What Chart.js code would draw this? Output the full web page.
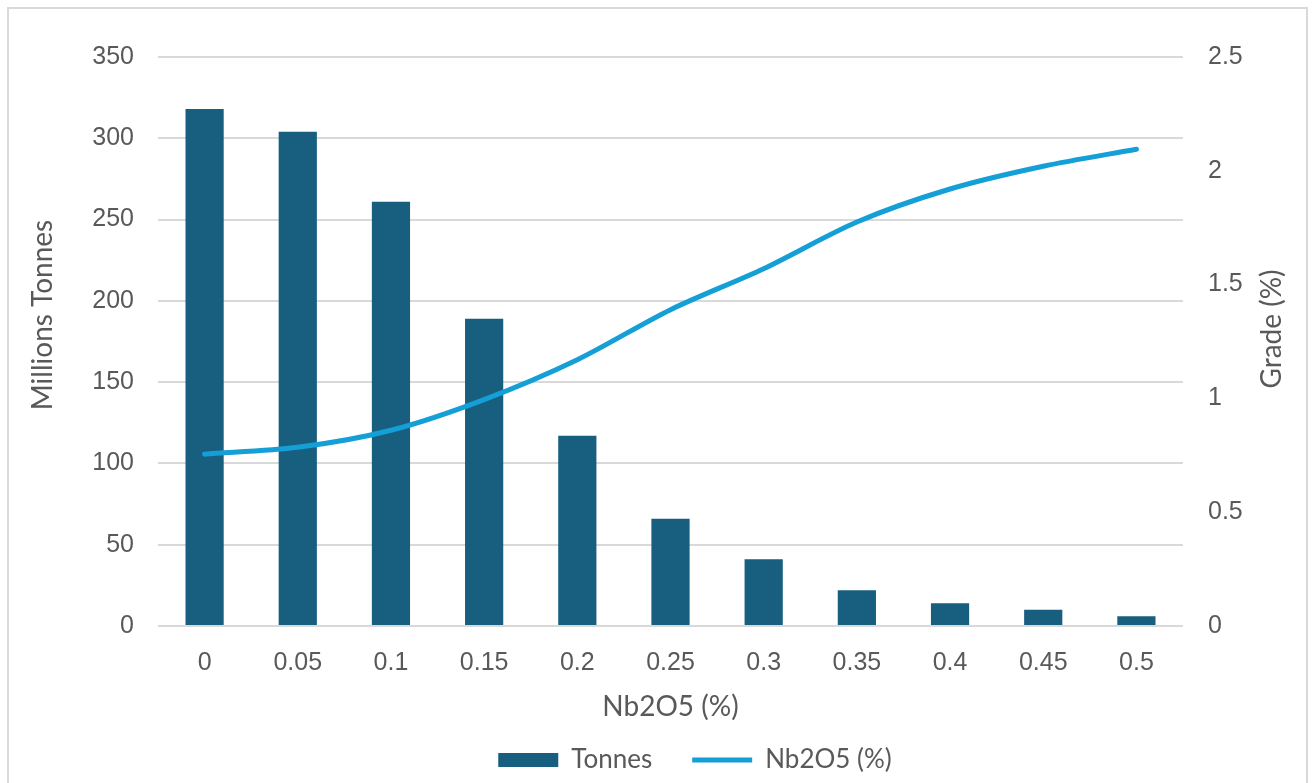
<!DOCTYPE html>
<html>
<head>
<meta charset="utf-8">
<script src="https://cdn.jsdelivr.net/npm/chart.js@4"></script>
<style>
  html, body { margin: 0; padding: 0; background: #fff; }
  #frame { position: absolute; left: 7px; top: 7px; width: 1301px; height: 790px;
           border: 2px solid #d9d9d9; box-sizing: border-box; }
  #wrap { position: absolute; left: 0; top: 0; width: 1314px; height: 783px; }
</style>
</head>
<body>
<div id="frame"></div>
<div id="wrap"><canvas id="GradeTonnageChart" width="1314" height="783"></canvas></div>
<script>
// cut-off grades and values
var cutoffs = ["0", "0.05", "0.1", "0.15", "0.2", "0.25", "0.3", "0.35", "0.4", "0.45", "0.5"];
var tonnes = [318, 304, 261, 189, 117, 66, 41, 22, 14, 10, 6];
var grade = [0.755, 0.785, 0.86, 0.995, 1.17, 1.39, 1.57, 1.775, 1.92, 2.02, 2.095];

var tickColor = "#595959";
var gridColor = "#d9d9d9";

// both y titles read bottom-to-top and sit a bit above the middle, so draw them by hand
function drawSideTitle(ctx, text, x, y) {
  ctx.save();
  ctx.translate(x, y);
  ctx.rotate(-Math.PI / 2);
  ctx.font = "28px Lato";
  ctx.fillStyle = tickColor;
  ctx.textAlign = "center";
  ctx.textBaseline = "middle";
  ctx.fillText(text, 0, 0);
  ctx.restore();
}

var sideTitles = {
  id: "sideTitles",
  afterDraw: function(chart) {
    var ctx = chart.ctx;
    drawSideTitle(ctx, "Millions Tonnes", 43, 315);
    drawSideTitle(ctx, "Grade (%)", 1272, 329);
  }
};

var ctx = document.getElementById("GradeTonnageChart").getContext("2d");
var grade_chart = new Chart(ctx, {
  data: {
    labels: cutoffs,
    datasets: [
      {
        type: "line",
        label: "Nb2O5 (%)",
        data: grade,
        yAxisID: "yGrade",
        borderColor: "#159fd7",
        backgroundColor: "#159fd7",
        borderWidth: 5,
        borderCapStyle: "round",
        borderJoinStyle: "round",
        pointRadius: 0,
        pointStyle: "line",
        tension: 0.3,
        fill: false,
        order: 0
      },
      {
        type: "bar",
        label: "Tonnes",
        data: tonnes,
        yAxisID: "yTonnes",
        backgroundColor: "#175e7f",
        pointStyle: "rect",
        barPercentage: 0.41,
        categoryPercentage: 1,
        order: 1
      }
    ]
  },
  options: {
    responsive: false,
    animation: false,
    // wide left padding pushes the legend centre to the right like in the picture
    layout: { padding: { left: 86, right: 10, top: 57, bottom: 0 } },
    scales: {
      x: {
        grid: { display: false, drawTicks: false },
        border: { display: false },
        ticks: { color: tickColor, font: { family: "Liberation Sans", size: 25 }, padding: 22 },
        title: { display: true, text: "Nb2O5 (%)", color: tickColor,
                 font: { family: "Lato", size: 28, lineHeight: 1.2 }, padding: { top: 0, bottom: -17 } },
        afterFit: function(scale) { scale.height = 81; }
      },
      yTonnes: {
        position: "left",
        min: 0, max: 350,
        ticks: { stepSize: 50, color: tickColor, font: { family: "Liberation Sans", size: 25 }, padding: 24 },
        grid: { color: gridColor, lineWidth: 2, drawTicks: false },
        border: { display: false },
        afterFit: function(scale) { scale.width = 72; }
      },
      yGrade: {
        position: "right",
        min: 0, max: 2.5,
        ticks: {
          stepSize: 0.5, color: tickColor, font: { family: "Liberation Sans", size: 25 }, padding: 25,
          callback: function(value) { return String(Math.round(value * 10) / 10); }
        },
        grid: { display: false, drawTicks: false },
        border: { display: false },
        afterFit: function(scale) { scale.width = 121; }
      }
    },
    plugins: {
      legend: {
        position: "bottom",
        reverse: true,
        maxHeight: 77,
        labels: {
          usePointStyle: true,
          pointStyleWidth: 60,
          boxHeight: 14,
          padding: 40,
          color: tickColor,
          font: { family: "Lato", size: 26 }
        }
      },
      tooltip: { enabled: false }
    }
  },
  plugins: [sideTitles]
});
</script>
</body>
</html>
